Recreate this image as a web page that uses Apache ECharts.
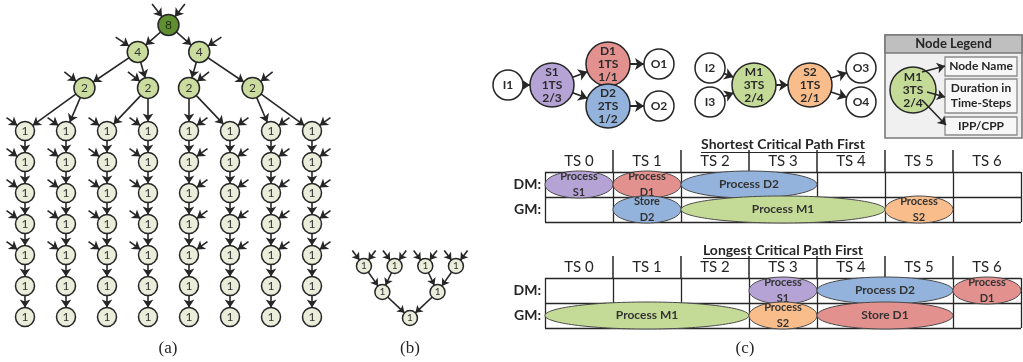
<!DOCTYPE html>
<html>
<head>
<meta charset="utf-8">
<script src="https://cdn.jsdelivr.net/npm/echarts@6/dist/echarts.min.js"></script>
<style>
  html, body { margin: 0; background: #fff; }
  #chart { width: 1023px; height: 362px; }
</style>
</head>
<body>
<div id="chart"></div>
<script>
// ---------- data ----------
// (a) task tree: weight of each upper level, then columns of weight-1 chains
const treeWeights = [8, 4, 2];
const chainCols = [0, 1, 2, 3, 4, 5, 6, 7];
const chainLength = 7;     // weight-1 tasks per column
const chainInputs = 5;     // first tasks of each column that take an outside input

// (b) small reduction tree: nodes per level
const smallLevels = [4, 2, 1];

// (c) two task graphs, listed by layer
const dag1 = [['I1'], ['S1'], ['D1', 'D2'], ['O1', 'O2']];
const dag2 = [['I2', 'I3'], ['M1'], ['S2'], ['O3', 'O4']];
const taskDuration = { S1: '1TS', D1: '1TS', D2: '2TS', M1: '3TS', S2: '1TS' };
const taskPaths = { S1: '2/3', D1: '1/1', D2: '1/2', M1: '2/4', S2: '2/1' };
const dagEdges = [
  ['I1', 'S1'], ['S1', 'D1'], ['S1', 'D2'], ['D1', 'O1'], ['D2', 'O2'],
  ['I2', 'M1'], ['I3', 'M1'], ['M1', 'S2'], ['S2', 'O3'], ['S2', 'O4']
];
const legendParts = ['Node Name', 'Duration in\nTime-Steps', 'IPP/CPP'];

// schedules: [row, first TS, last TS, task, text]
const tsLabels = ['TS 0', 'TS 1', 'TS 2', 'TS 3', 'TS 4', 'TS 5', 'TS 6'];
const tsBounds = [1, 2, 3, 4, 5, 6];
const rowLabels = ['DM:', 'GM:'];
const shortestFirst = [
  [0, 0, 0, 'S1', 'Process\nS1'],
  [0, 1, 1, 'D1', 'Process\nD1'],
  [0, 2, 3, 'D2', 'Process D2'],
  [1, 1, 1, 'D2', 'Store\nD2'],
  [1, 2, 4, 'M1', 'Process M1'],
  [1, 5, 5, 'S2', 'Process\nS2']
];
const longestFirst = [
  [0, 3, 3, 'S1', 'Process\nS1'],
  [0, 4, 5, 'D2', 'Process D2'],
  [0, 6, 6, 'D1', 'Process\nD1'],
  [1, 0, 2, 'M1', 'Process M1'],
  [1, 3, 3, 'S2', 'Process\nS2'],
  [1, 4, 5, 'D1', 'Store D1']
];

// ---------- layout / style ----------
const SANS = 'Lato, "Open Sans", sans-serif';
const INK = '#262626';
const taskColor = { S1: '#b5a3d6', D1: '#e3918f', D2: '#93b3dc', M1: '#c4db97', S2: '#f9bd8c' };
const treeFill = { 8: '#5f8f31', 4: '#cadd9f', 2: '#cadd9f', 1: '#e9edd9' };

// upper tree node spots, in leaf-column / leaf-row units
const treeX = [[3.5], [2.75, 4.25], [1.45, 3, 4, 5.55]];
const treeY = [-3.42, -2.55, -1.39];
const stubOff = [[0.4, -0.68], [0.54, -0.48], [0.49, -0.52]];

const smallX = [[0, 1, 2, 3], [0.6, 2.4], [1.5]];

const layerX = [0, 0.88, 2.0, 3.02];
const dagOrigin = [0.36, 4.4];
const dagSpread = [2.1, 1.7];

function node(name, x, y, size, fill, text, extra) {
  return Object.assign({
    name: name,
    value: [x, y],
    symbolSize: size,
    itemStyle: fill ? { color: fill, borderColor: INK, borderWidth: 1.5 } : { opacity: 0 },
    label: { show: !!text, formatter: text || '' }
  }, extra || {});
}

// ----- (a)
const aNodes = [], aLinks = [];
treeWeights.forEach(function (w, lv) {
  treeX[lv].forEach(function (x, i) {
    const id = 't' + lv + '_' + i;
    const y = treeY[lv];
    aNodes.push(node(id, x, y, 21, treeFill[w], String(w),
      lv === 0 ? { label: { show: true, formatter: String(w), color: '#1f2d12' } } : null));
    if (lv > 0) aLinks.push({ source: 't' + (lv - 1) + '_' + Math.floor(i / 2), target: id });
    const sides = lv === 0 ? [-1, 1] : [x < 3.5 ? -1 : 1];
    sides.forEach(function (s, k) {
      const sid = id + '_in' + k;
      aNodes.push(node(sid, x + s * stubOff[lv][0], y + stubOff[lv][1], 0));
      aLinks.push({ source: sid, target: id });
    });
  });
});
chainCols.forEach(function (c) {
  for (let r = 0; r < chainLength; r++) {
    const id = 'c' + c + '_' + r;
    aNodes.push(node(id, c, r, 19, treeFill[1], '1'));
    aLinks.push({ source: r === 0 ? 't2_' + Math.floor(c / 2) : 'c' + c + '_' + (r - 1), target: id });
    if (r < chainInputs) {
      const s = c < 3.5 ? -1 : 1;
      aNodes.push(node(id + '_in', c + s * 0.45, r - 0.43, 0));
      aLinks.push({ source: id + '_in', target: id });
    }
  }
});

// ----- (b)
const bNodes = [], bLinks = [];
smallLevels.forEach(function (n, lv) {
  for (let i = 0; i < n; i++) {
    const id = 'b' + lv + '_' + i;
    const x = smallX[lv][i];
    bNodes.push(node(id, x, lv, 15, treeFill[1], '1'));
    if (lv > 0) {
      bLinks.push({ source: 'b' + (lv - 1) + '_' + (2 * i), target: id });
      bLinks.push({ source: 'b' + (lv - 1) + '_' + (2 * i + 1), target: id });
    } else {
      [-1, 1].forEach(function (s, k) {
        bNodes.push(node(id + '_in' + k, x + s * 0.38, -0.6, 0));
        bLinks.push({ source: id + '_in' + k, target: id });
      });
    }
  }
});

// ----- (c) task graphs
const cNodes = [];
[dag1, dag2].forEach(function (dag, g) {
  dag.forEach(function (layer, l) {
    layer.forEach(function (name, i) {
      const y = (i - (layer.length - 1) / 2) * dagSpread[g];
      const x = dagOrigin[g] + layerX[l];
      if (taskDuration[name]) {
        cNodes.push(node(name, x, y, 44, taskColor[name], name + '\n' + taskDuration[name] + '\n' + taskPaths[name]));
      } else {
        cNodes.push(node(name, x, y, 30, '#ffffff', name));
      }
    });
  });
});
cNodes.push(node('legendM1', 8.46, 0.25, 46, taskColor.M1, 'M1\n3TS\n2/4'));
const cLinks = dagEdges.map(function (e) { return { source: e[0], target: e[1] }; });

// legend pointers: from a text line in the circle to its box
const lgNodes = [], lgLinks = [];
[[8.64, -0.65, 9.1, -0.95], [8.74, 0.35, 9.1, 0.6], [8.64, 0.75, 9.12, 2.0]].forEach(function (p, i) {
  lgNodes.push(node('lf' + i, p[0], p[1], 0));
  lgNodes.push(node('lt' + i, p[2], p[3], 0));
  lgLinks.push({ source: 'lf' + i, target: 'lt' + i });
});

function graphSeries(idx, nodes, links, opt) {
  return Object.assign({
    type: 'graph',
    layout: 'none',
    coordinateSystem: 'cartesian2d',
    xAxisIndex: idx,
    yAxisIndex: idx,
    silent: true,
    roam: false,
    data: nodes,
    links: links,
    edgeSymbol: ['none', 'arrow'],
    edgeSymbolSize: 8,
    lineStyle: { color: INK, width: 1.6, opacity: 1, curveness: 0 },
    label: { show: true, position: 'inside', color: '#333', fontFamily: SANS, fontSize: 12 },
    emphasis: { disabled: true }
  }, opt || {});
}

const measureCtx = document.createElement('canvas').getContext('2d');
function textWidth(t, font) { measureCtx.font = font; return measureCtx.measureText(t).width; }

function legendBox(params, api) {
  const p = function (x, y) { return api.coord([x, y]); };
  const a = p(7.9, -2.5), b = p(10.64, 2.65), h = p(10.64, -1.6);
  const kids = [
    { type: 'rect', shape: { x: a[0], y: a[1], width: b[0] - a[0], height: b[1] - a[1] },
      style: { fill: '#f0f0f0', stroke: '#7a7a7a', lineWidth: 1.6 } },
    { type: 'rect', shape: { x: a[0], y: a[1], width: b[0] - a[0], height: h[1] - a[1] },
      style: { fill: '#bfbfbf', stroke: '#7a7a7a', lineWidth: 1.6 } },
    { type: 'text', x: (a[0] + b[0]) / 2, y: (a[1] + h[1]) / 2,
      style: { text: 'Node Legend', font: 'bold 13px ' + SANS, fill: INK, align: 'center', verticalAlign: 'middle' } }
  ];
  const spans = [[-1.4, -0.45], [-0.3, 1.4], [1.6, 2.5]];
  legendParts.forEach(function (t, i) {
    const q = p(9.1, spans[i][0]), r = p(10.54, spans[i][1]);
    kids.push({ type: 'rect', shape: { x: q[0], y: q[1], width: r[0] - q[0], height: r[1] - q[1] },
      style: { fill: '#f7f7f7', stroke: '#8c8c8c', lineWidth: 1.3 } });
    kids.push({ type: 'text', x: (q[0] + r[0]) / 2, y: (q[1] + r[1]) / 2,
      style: { text: t, font: 'bold 12px ' + SANS, fill: INK, align: 'center', verticalAlign: 'middle', lineHeight: 15 } });
  });
  return { type: 'group', children: kids };
}

function ellipses(list) {
  return function (params, api) {
    const d = list[params.dataIndex];
    const a = api.coord([d[1], d[0] + 0.5]);
    const b = api.coord([d[2] + 1, d[0] + 0.5]);
    const rowH = api.size([0, 1])[1];
    const two = d[4].indexOf('\n') >= 0;
    return {
      type: 'group',
      children: [
        { type: 'ellipse', shape: { cx: (a[0] + b[0]) / 2, cy: a[1], rx: (b[0] - a[0]) / 2, ry: rowH * 0.54 },
          style: { fill: taskColor[d[3]], stroke: '#4a4a4a', lineWidth: 1 } },
        { type: 'text', x: (a[0] + b[0]) / 2, y: a[1],
          style: { text: d[4], font: 'bold ' + (two ? 11 : 12) + 'px ' + SANS, fill: '#333',
                   align: 'center', verticalAlign: 'middle', lineHeight: 16 } }
      ]
    };
  };
}

// header separators between TS columns
function separator(params, api) {
  const t = api.coord([api.value(0), -0.88]);
  const u = api.coord([api.value(0), 0]);
  return { type: 'line', shape: { x1: t[0], y1: t[1], x2: u[0], y2: u[1] },
    style: { stroke: INK, lineWidth: 1.5 } };
}

function tableTitle(title) {
  return function (params, api) {
    const c = api.coord([3.5, -1.1]);
    const font = 'bold 14px ' + SANS;
    const w = textWidth(title, font);
    return { type: 'group', children: [
      { type: 'text', x: c[0], y: c[1], style: { text: title, font: font, fill: INK, align: 'center', verticalAlign: 'middle' } },
      { type: 'line', shape: { x1: c[0] - w / 2, y1: c[1] + 8, x2: c[0] + w / 2, y2: c[1] + 8 }, style: { stroke: INK, lineWidth: 1.2 } }
    ] };
  };
}

function hiddenAxis(grid, min, max, inverse) {
  return { gridIndex: grid, type: 'value', min: min, max: max, inverse: !!inverse, show: false };
}
function labelAxisX(grid) {
  return { gridIndex: grid, type: 'category', position: 'top', data: tsLabels,
    axisLine: { show: false }, axisTick: { show: false }, splitLine: { show: false },
    axisLabel: { margin: 3, color: INK, fontFamily: SANS, fontSize: 15 } };
}
function cellAxisX(grid) {
  return { gridIndex: grid, type: 'value', position: 'bottom', min: 0, max: 7, interval: 1,
    axisLine: { show: false }, axisTick: { show: false }, axisLabel: { show: false },
    splitLine: { show: true, lineStyle: { color: INK, width: 1.3 } } };
}
function labelAxisY(grid) {
  return { gridIndex: grid, type: 'category', position: 'left', inverse: true, data: rowLabels,
    axisLine: { show: false }, axisTick: { show: false }, splitLine: { show: false },
    axisLabel: { margin: 4, color: INK, fontFamily: SANS, fontSize: 14, fontWeight: 'bold' } };
}
function cellAxisY(grid) {
  return { gridIndex: grid, type: 'value', position: 'right', min: 0, max: 2, interval: 1, inverse: true,
    axisLine: { show: false }, axisTick: { show: false }, axisLabel: { show: false },
    splitLine: { show: true, lineStyle: { color: INK, width: 1.3 } } };
}

function tableSeries(axis, title, list) {
  return [
    { type: 'custom', xAxisIndex: axis, yAxisIndex: axis, silent: true, clip: false,
      data: [[3.5, -1.1]], renderItem: tableTitle(title) },
    { type: 'custom', xAxisIndex: axis, yAxisIndex: axis, clip: false,
      data: tsBounds.map(function (k) { return [k, 0]; }), renderItem: separator },
    { type: 'custom', xAxisIndex: axis, yAxisIndex: axis, silent: true, z: 3, clip: false,
      data: list.map(function (d) { return [d[1], d[0]]; }), renderItem: ellipses(list) }
  ];
}

const chart = echarts.init(document.getElementById('chart'), null, { renderer: 'canvas' });
chart.setOption({
  animation: false,
  backgroundColor: '#ffffff',
  title: [
    { text: '(a)', left: 168, top: 340, textAlign: 'center' },
    { text: '(b)', left: 410, top: 340, textAlign: 'center' },
    { text: '(c)', left: 745, top: 340, textAlign: 'center' }
  ].map(function (t) {
    t.textStyle = { fontFamily: '"Liberation Serif", "DejaVu Serif", serif', fontWeight: 'normal', fontSize: 17, color: INK };
    t.padding = 0;
    return t;
  }),
  grid: [
    { left: 0.4, top: 7, width: 336.2, height: 341 },
    { left: 333.3, top: 240, width: 153.3, height: 104 },
    { left: 490, top: 5, width: 533, height: 140 },
    { left: 545, top: 172, width: 476, height: 50 },
    { left: 545, top: 278, width: 476, height: 50 }
  ].map(function (g) { g.outerBoundsMode = 'none'; g.containLabel = false; return g; }),
  xAxis: [
    hiddenAxis(0, -0.6, 7.6),
    hiddenAxis(1, -1, 4),
    hiddenAxis(2, 0, 10.66),
    labelAxisX(3), cellAxisX(3),
    labelAxisX(4), cellAxisX(4)
  ],
  yAxis: [
    hiddenAxis(0, -4, 7, true),
    hiddenAxis(1, -1, 3, true),
    hiddenAxis(2, -4, 3, true),
    labelAxisY(3), cellAxisY(3),
    labelAxisY(4), cellAxisY(4)
  ],
  series: [
    graphSeries(0, aNodes, aLinks),
    graphSeries(1, bNodes, bLinks, { edgeSymbolSize: 7, label: { show: true, position: 'inside', color: '#333', fontFamily: SANS, fontSize: 10 } }),
    {
      type: 'custom', xAxisIndex: 2, yAxisIndex: 2, z: 1, silent: true,
      data: [[7.9, -2.5]], renderItem: legendBox
    },
    graphSeries(2, cNodes, cLinks, {
      z: 2, edgeSymbolSize: 9, lineStyle: { color: INK, width: 1.8, opacity: 1, curveness: 0 },
      label: { show: true, position: 'inside', color: '#2a2a2a', fontFamily: SANS, fontSize: 12, fontWeight: 'bold', lineHeight: 13 }
    }),
    graphSeries(2, lgNodes, lgLinks, { z: 5, edgeSymbolSize: 8, lineStyle: { color: INK, width: 1.6, opacity: 1, curveness: 0 } })
  ]
    .concat(tableSeries(4, 'Shortest Critical Path First', shortestFirst))
    .concat(tableSeries(6, 'Longest Critical Path First', longestFirst))
});
</script>
</body>
</html>
